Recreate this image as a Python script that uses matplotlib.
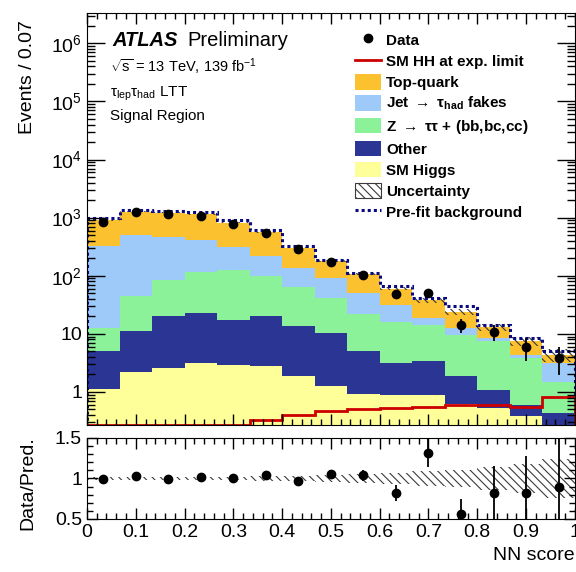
import numpy as np
import matplotlib
matplotlib.use("Agg")
import matplotlib.pyplot as plt
from matplotlib.lines import Line2D
from matplotlib.patches import Patch
from matplotlib.ticker import MultipleLocator, LogLocator, FuncFormatter, NullFormatter

# binning of the NN score (15 bins of 1/15)
bin_edges = np.linspace(0.0, 1.0, 16)
bin_centers = 0.5 * (bin_edges[1:] + bin_edges[:-1])

# stacked backgrounds, bottom to top
sm_higgs = [1.13, 2.19, 2.57, 3.1, 2.94, 2.75, 1.85, 1.29, 0.91, 0.89, 0.89, 0.62, 0.53, 0.39, 0.22]
other = [3.97, 9.1, 17.4, 19.9, 14.1, 17.3, 11.7, 9.1, 4.2, 2.2, 2.5, 1.23, 0.56, 0.21, 0.21]
ztautau_hf = [7.5, 33.2, 65.0, 94.0, 107.0, 79.0, 49.5, 30.2, 16.9, 12.9, 11.05, 7.85, 6.3, 3.2, 1.07]
jet_fakes = [313.0, 460.0, 382.0, 291.0, 189.0, 120.0, 71.0, 51.4, 29.0, 15.0, 4.4, 2.9, 1.1, 0.56, 1.65]
top_quark = [580.0, 755.0, 753.0, 742.0, 511.0, 336.0, 171.0, 87.0, 57.0, 29.0, 19.2, 11.2, 4.6, 3.04, 1.21]

prefit_bkg = [967.0, 1343.0, 1313.0, 1230.0, 906.0, 608.0, 326.0, 187.0, 113.0, 66.0, 40.6, 30.7, 14.4, 8.5, 5.1]
sm_hh_limit = [0.27, 0.27, 0.27, 0.27, 0.27, 0.33, 0.40, 0.47, 0.50, 0.54, 0.56, 0.60, 0.60, 0.56, 0.82]

data = [850.0, 1230.0, 1150.0, 1080.0, 775.0, 535.0, 288.0, 172.0, 103.0, 48.0, 51.0, 14.0, 10.7, 5.9, 3.9]

# relative uncertainty on the total background
rel_unc = [0.02, 0.015, 0.015, 0.02, 0.02, 0.025, 0.03, 0.04, 0.05, 0.07, 0.09, 0.11, 0.14, 0.18, 0.24]

# lower panel
ratio = [0.99, 1.03, 0.99, 1.02, 1.0, 1.04, 0.97, 1.05, 1.04, 0.82, 1.32, 0.56, 0.82, 0.82, 0.9]
ratio_err = [0.01, 0.01, 0.01, 0.01, 0.015, 0.02, 0.025, 0.04, 0.07, 0.1, 0.18, 0.19, 0.33, 0.46, 0.6]

stack = [
    (sm_higgs, "#ffff99", "SM Higgs"),
    (other, "#2b3593", "Other"),
    (ztautau_hf, "#8cf29a", r"Z $\rightarrow$ $\tau\tau$ + (bb,bc,cc)"),
    (jet_fakes, "#9dcaf8", r"Jet $\rightarrow$ $\tau_{had}$ fakes"),
    (top_quark, "#fcc12f", "Top-quark"),
]

plt.rcParams["font.family"] = ["Liberation Sans", "DejaVu Sans"]
plt.rcParams["mathtext.fontset"] = "custom"
plt.rcParams["mathtext.rm"] = "Liberation Sans"
plt.rcParams["mathtext.it"] = "Liberation Sans:italic"
plt.rcParams["mathtext.bf"] = "Liberation Sans:bold"
plt.rcParams["mathtext.default"] = "regular"
plt.rcParams["hatch.linewidth"] = 0.8

fig = plt.figure(figsize=(5.76, 5.72), dpi=100)
ax = fig.add_axes([0.151, 0.257, 0.847, 0.72])
rax = fig.add_axes([0.151, 0.0927, 0.847, 0.1416])

# --- main panel
bottom = np.full(len(data), 1e-3)
for vals, col, lab in stack:
    top = bottom + np.array(vals)
    ax.stairs(top, bin_edges, baseline=bottom, fill=True, color=col, lw=0)
    bottom = top
total = bottom

hatch_col = "#3a3a3a"
ax.stairs(total * (1 + np.array(rel_unc)), bin_edges, baseline=total * (1 - np.array(rel_unc)),
          fill=True, facecolor="none", edgecolor=hatch_col, hatch="\\\\\\\\", lw=0)
ax.stairs(prefit_bkg, bin_edges, color="#0a0a80", lw=2.2, ls=(0, (1, 1)))
ax.stairs(sm_hh_limit, bin_edges, color="#cc0000", lw=2.0)
ax.errorbar(bin_centers, data, yerr=np.sqrt(data), fmt="o", color="black", ms=6, lw=1.3, capsize=0)

ax.set_yscale("log")
ax.set_xlim(0, 1)
ax.set_ylim(0.27, 3.3e6)
ax.yaxis.set_major_locator(LogLocator(base=10, numticks=20))
ax.yaxis.set_minor_locator(LogLocator(base=10, subs=np.arange(2, 10), numticks=20))


def logfmt(v, pos):
    e = int(round(np.log10(v)))
    if e == 0:
        return "1"
    if e == 1:
        return "10"
    return r"$10^{%d}$" % e


ax.yaxis.set_major_formatter(FuncFormatter(logfmt))
ax.yaxis.set_minor_formatter(NullFormatter())
ax.xaxis.set_major_locator(MultipleLocator(0.1))
ax.xaxis.set_minor_locator(MultipleLocator(0.02))
ax.tick_params(axis="x", which="both", labelbottom=False)
for a in (ax, rax):
    a.tick_params(which="both", direction="in", top=True, right=True, labelsize=14, width=1)
    a.tick_params(axis="x", which="major", length=8)
    a.tick_params(axis="x", which="minor", length=4)
ax.tick_params(axis="y", which="major", length=13)
ax.tick_params(axis="y", which="minor", length=6)

# legend
handles = [
    Line2D([], [], marker="o", color="black", ls="none", ms=6),
    Line2D([], [], color="#cc0000", lw=2.0),
    Patch(facecolor="#fcc12f", lw=0),
    Patch(facecolor="#9dcaf8", lw=0),
    Patch(facecolor="#8cf29a", lw=0),
    Patch(facecolor="#2b3593", lw=0),
    Patch(facecolor="#ffff99", lw=0),
    Patch(facecolor="white", edgecolor=hatch_col, hatch="\\\\\\\\", lw=0.8),
    Line2D([], [], color="#0a0a80", lw=2.2, ls=(0, (1, 1))),
]
labels = ["Data", "SM HH at exp. limit", "Top-quark", r"Jet $\rightarrow$ $\tau_{had}$ fakes",
          r"Z $\rightarrow$ $\tau\tau$ + (bb,bc,cc)", "Other", "SM Higgs", "Uncertainty",
          "Pre-fit background"]
ax.legend(handles, labels, loc="upper left", bbox_to_anchor=(355 / 576, 1 - 32 / 572),
          bbox_transform=fig.transFigure, frameon=False, borderpad=0, borderaxespad=0,
          prop={"weight": "bold", "size": 11}, handlelength=1.7, handleheight=1.2,
          labelspacing=0.33, handletextpad=0.35)

# ATLAS label
ax.text(0.052, 0.933, "ATLAS", transform=ax.transAxes, fontsize=14.5, fontweight="bold",
        fontstyle="italic", va="center")
ax.text(0.205, 0.933, "Preliminary", transform=ax.transAxes, fontsize=14.5, va="center")
ax.text(0.048, 0.87, r"$\sqrt{s}$ = 13 TeV, 139 fb$^{-1}$", transform=ax.transAxes,
        fontsize=10.5, va="center")
ax.text(0.048, 0.805, r"$\tau_{lep}\tau_{had}$ LTT", transform=ax.transAxes, fontsize=11, va="center")
ax.text(0.048, 0.75, "Signal Region", transform=ax.transAxes, fontsize=11, va="center")

# --- ratio panel
rel = np.array(rel_unc)
rax.stairs(1 + rel, bin_edges, baseline=1 - rel, fill=True, facecolor="none",
           edgecolor=hatch_col, hatch="\\\\\\\\", lw=0)
rax.errorbar(bin_centers, ratio, yerr=ratio_err, fmt="o", color="black", ms=6, lw=1.3, capsize=0)
rax.set_xlim(0, 1)
rax.set_ylim(0.5, 1.5)
rax.yaxis.set_major_locator(MultipleLocator(0.5))
rax.yaxis.set_minor_locator(MultipleLocator(0.1))
rax.xaxis.set_major_locator(MultipleLocator(0.1))
rax.xaxis.set_minor_locator(MultipleLocator(0.02))
rax.xaxis.set_major_formatter(FuncFormatter(lambda v, p: "%g" % round(v, 2)))
rax.yaxis.set_major_formatter(FuncFormatter(lambda v, p: "%g" % v))
rax.tick_params(axis="y", which="major", length=8)
rax.tick_params(axis="y", which="minor", length=4)

fig.text(28 / 576, 1 - 20 / 572, "Events / 0.07", rotation=90, ha="center", va="top", fontsize=14)
fig.text(28 / 576, 1 - 483 / 572, "Data/Pred.", rotation=90, ha="center", va="center", fontsize=14)
fig.text(575 / 576, 1 - 555 / 572, "NN score", ha="right", va="center", fontsize=14)

fig.savefig("out.png", dpi=100)
